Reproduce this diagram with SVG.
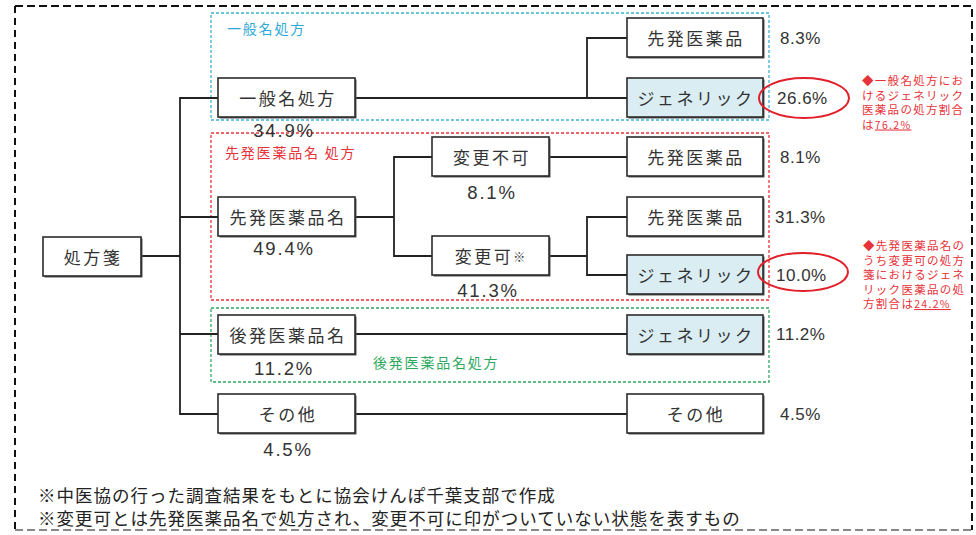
<svg xmlns="http://www.w3.org/2000/svg" width="976" height="535" viewBox="0 0 976 535">
<style>
.box{fill:#fff;stroke:#2b2b2b;stroke-width:1.6}
.gen{fill:#d9edf3;stroke:#2b2b2b;stroke-width:1.6}
.sh{fill:#555}
.nt{font-family:"Noto Sans CJK JP","Noto Sans CJK SC",sans-serif;font-size:17px;letter-spacing:2.5px;fill:#333;text-anchor:middle;dominant-baseline:central}
.pc{font-family:"Liberation Sans",Arial,sans-serif;font-size:18.5px;letter-spacing:1.8px;fill:#333;text-anchor:middle}
.pr{font-family:"Liberation Sans",Arial,sans-serif;font-size:17px;letter-spacing:0.5px;fill:#333}
.con{fill:none;stroke:#222;stroke-width:1.8}
.ann{font-family:"Noto Sans CJK JP","Noto Sans CJK SC",sans-serif;font-size:11.5px;letter-spacing:1.3px;fill:#e8323a}
.grp{font-family:"Noto Sans CJK JP","Noto Sans CJK SC",sans-serif;font-size:14px;letter-spacing:1.8px}
.foot{font-family:"Noto Sans CJK JP","Noto Sans CJK SC",sans-serif;font-size:17.5px;letter-spacing:1px;fill:#222}
</style>
<rect width="976" height="535" fill="#fff"/>
<!-- outer frame -->
<g id="frame" fill="none" stroke-width="2">
<path d="M15 6 H972 V530" stroke="#111" stroke-dasharray="8 4"/>
<path d="M15 6 V530" stroke="#111" stroke-dasharray="7 5"/>
<path d="M15 530 H972" stroke="#888" stroke-dasharray="8 4"/>
</g>
<!-- group boxes -->
<g id="group-ippan">
<rect x="211" y="13" width="558" height="107" fill="none" stroke="#3cb2d4" stroke-width="1.3" stroke-dasharray="3 2"/>
<text class="grp" x="227" y="34" fill="#2fa8d8">一般名処方</text>
</g>
<g id="group-senpatsu">
<rect x="211" y="133" width="558" height="167" fill="none" stroke="#e8323a" stroke-width="1.3" stroke-dasharray="3 2"/>
<text class="grp" x="225" y="158" fill="#e8323a">先発医薬品名 処方</text>
</g>
<g id="group-kouhatsu">
<rect x="211" y="308" width="558" height="74" fill="none" stroke="#2ea860" stroke-width="1.3" stroke-dasharray="3 2"/>
<text class="grp" x="373" y="368" fill="#2ea860">後発医薬品名処方</text>
</g>
<!-- connectors -->
<g id="connectors" class="con">
<path d="M141 256 H180"/>
<path d="M218 98 H180 V414 H218"/>
<path d="M180 217 H218"/>
<path d="M180 334 H218"/>
<path d="M355 98 H627"/>
<path d="M627 38 H587 V98"/>
<path d="M355 217 H394"/>
<path d="M432 157 H394 V256 H432"/>
<path d="M549 157 H627"/>
<path d="M549 256 H587"/>
<path d="M627 217 H587 V275 H627"/>
<path d="M355 334 H627"/>
<path d="M355 414 H627"/>
</g>
<!-- nodes -->
<g id="n-shohousen"><rect class="sh" x="44.5" y="238.5" width="98" height="39"/><rect class="box" x="43" y="237" width="98" height="39"/><text class="nt" x="93" y="256.5">処方箋</text></g>
<g id="n-ippan"><rect class="sh" x="219.5" y="79.5" width="137" height="39"/><rect class="box" x="218" y="78" width="137" height="39"/><text class="nt" x="288" y="97.5">一般名処方</text><text class="pc" x="284" y="137">34.9%</text></g>
<g id="n-senpatsu-mei"><rect class="sh" x="219.5" y="198.5" width="137" height="39"/><rect class="box" x="218" y="197" width="137" height="39"/><text class="nt" x="288" y="216.5">先発医薬品名</text><text class="pc" x="284" y="255">49.4%</text></g>
<g id="n-kouhatsu-mei"><rect class="sh" x="219.5" y="316.5" width="137" height="39"/><rect class="box" x="218" y="315" width="137" height="39"/><text class="nt" x="288" y="334.5">後発医薬品名</text><text class="pc" x="284" y="375">11.2%</text></g>
<g id="n-sonota"><rect class="sh" x="219.5" y="395.5" width="137" height="39"/><rect class="box" x="218" y="394" width="137" height="39"/><text class="nt" x="288" y="413.5">その他</text><text class="pc" x="288" y="456">4.5%</text></g>
<g id="n-henkou-fuka"><rect class="sh" x="433.5" y="138.5" width="117" height="39"/><rect class="box" x="432" y="137" width="117" height="39"/><text class="nt" x="492" y="156.5">変更不可</text><text class="pc" x="492" y="199">8.1%</text></g>
<g id="n-henkou-ka"><rect class="sh" x="433.5" y="237.5" width="117" height="39"/><rect class="box" x="432" y="236" width="117" height="39"/><text class="nt" x="490" y="255.5">変更可<tspan font-size="12" letter-spacing="0">※</tspan></text><text class="pc" x="488" y="297">41.3%</text></g>
<g id="n-sen1"><rect class="sh" x="628.5" y="19.5" width="136" height="39"/><rect class="box" x="627" y="18" width="136" height="39"/><text class="nt" x="696" y="37.5">先発医薬品</text><text class="pr" x="780" y="44">8.3%</text></g>
<g id="n-gen1"><rect class="sh" x="628.5" y="79.5" width="136" height="39"/><rect class="gen" x="627" y="78" width="136" height="39"/><text class="nt" x="696" y="97.5">ジェネリック</text><text class="pr" x="777" y="104">26.6%</text></g>
<g id="n-sen2"><rect class="sh" x="628.5" y="138.5" width="136" height="39"/><rect class="box" x="627" y="137" width="136" height="39"/><text class="nt" x="696" y="156.5">先発医薬品</text><text class="pr" x="780" y="163">8.1%</text></g>
<g id="n-sen3"><rect class="sh" x="628.5" y="198.5" width="136" height="39"/><rect class="box" x="627" y="197" width="136" height="39"/><text class="nt" x="696" y="216.5">先発医薬品</text><text class="pr" x="775" y="223">31.3%</text></g>
<g id="n-gen2"><rect class="sh" x="628.5" y="256.5" width="136" height="39"/><rect class="gen" x="627" y="255" width="136" height="39"/><text class="nt" x="696" y="274.5">ジェネリック</text><text class="pr" x="776" y="281">10.0%</text></g>
<g id="n-gen3"><rect class="sh" x="628.5" y="316.5" width="136" height="39"/><rect class="gen" x="627" y="315" width="136" height="39"/><text class="nt" x="696" y="334.5">ジェネリック</text><text class="pr" x="776" y="340">11.2%</text></g>
<g id="n-sonota2"><rect class="sh" x="628.5" y="395.5" width="136" height="39"/><rect class="box" x="627" y="394" width="136" height="39"/><text class="nt" x="696" y="413.5">その他</text><text class="pr" x="780" y="420">4.5%</text></g>
<!-- highlights -->
<g id="highlights" fill="none" stroke="#e0202a" stroke-width="2">
<ellipse cx="804" cy="98" rx="45" ry="20"/>
<ellipse cx="803" cy="272" rx="45" ry="19"/>
</g>
<g id="note1" class="ann">
<text x="862" y="85">◆一般名処方にお</text>
<text x="862" y="99.5">けるジェネリック</text>
<text x="862" y="114">医薬品の処方割合</text>
<text x="862" y="128.5">は<tspan text-decoration="underline" font-size="10.5">76.2%</tspan></text>
</g>
<g id="note2" class="ann">
<text x="863" y="250">◆先発医薬品名の</text>
<text x="863" y="264.5">うち変更可の処方</text>
<text x="863" y="279">箋におけるジェネ</text>
<text x="863" y="293.5">リック医薬品の処</text>
<text x="863" y="308">方割合は<tspan text-decoration="underline" font-size="10.5">24.2%</tspan></text>
</g>
<g id="footnotes" class="foot">
<text x="38" y="502">※中医協の行った調査結果をもとに協会けんぽ千葉支部で作成</text>
<text x="38" y="525">※変更可とは先発医薬品名で処方され、変更不可に印がついていない状態を表すもの</text>
</g>
</svg>
